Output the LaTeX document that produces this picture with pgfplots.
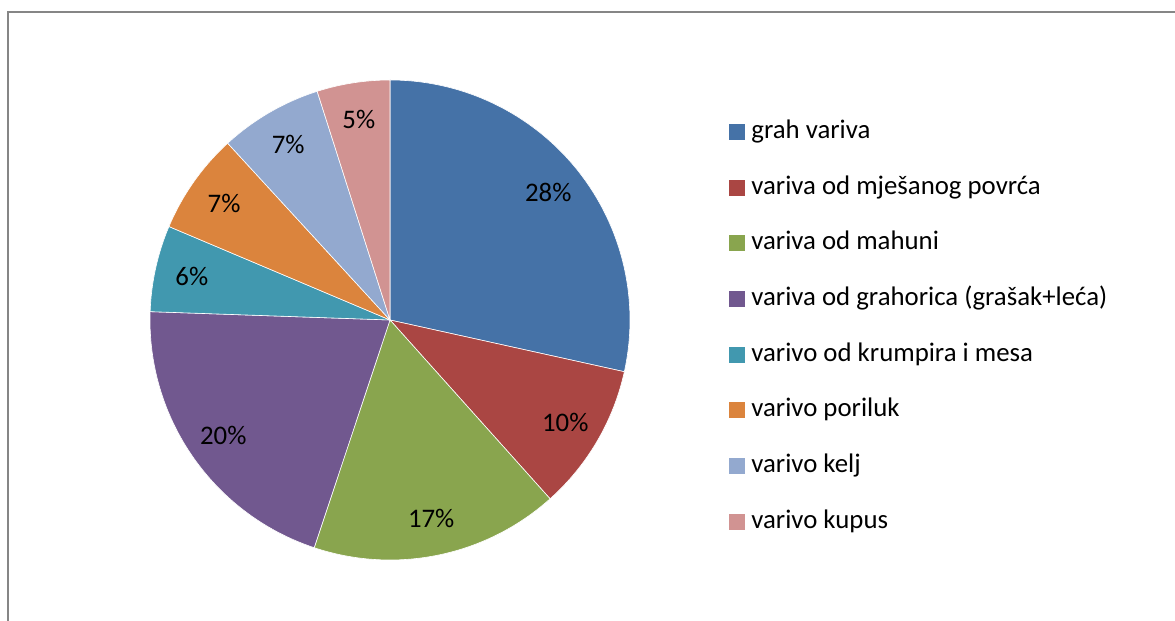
\documentclass[border=0pt]{standalone}
\usepackage{pgfplots}
\pgfplotsset{compat=1.18}
\usepackage{fontspec}
\setmainfont{Carlito}
\definecolor{c1}{HTML}{4572A7}
\definecolor{c2}{HTML}{AA4643}
\definecolor{c3}{HTML}{89A54E}
\definecolor{c4}{HTML}{71588F}
\definecolor{c5}{HTML}{4198AF}
\definecolor{c6}{HTML}{DB843D}
\definecolor{c7}{HTML}{93A9CF}
\definecolor{c8}{HTML}{D19392}
\definecolor{borderg}{HTML}{868686}
% share of each kind of stew (value/colour)
\def\piedata{28.4/c1, 9.9/c2, 16.7/c3, 20.4/c4, 5.8/c5, 6.8/c6, 6.9/c7, 4.9/c8}
\def\total{0}
\foreach \v/\c in \piedata {\pgfmathsetmacro\t{\total+\v}\xdef\total{\t}}
\tikzset{pielabel/.style={font=\fontsize{13.4}{15}\selectfont, text=black, inner sep=0pt}}
\begin{document}
\begin{tikzpicture}
\begin{axis}[
  width=587.5pt, height=310.5pt, scale only axis,
  xmin=0, xmax=1175, ymin=0, ymax=621,
  hide axis,
  legend style={at={(axis cs:723,506)}, anchor=north west, draw=none, fill=none,
    font=\fontsize{13.4}{15}\selectfont, row sep=15.35pt, column sep=3pt,
    nodes={inner sep=0pt, text height=9.5pt, text depth=3pt}},
  legend cell align=left,
  legend image code/.code={\fill[#1, draw=none] (0pt,-4pt) rectangle (8pt,4pt);},
]
\path (axis cs:0,0) rectangle (axis cs:1175,621);
\draw[color=borderg, line width=1pt] (axis cs:1175,609) -- (axis cs:8,609) -- (axis cs:8,0);
\addlegendimage{fill=c1, draw=none}\addlegendentry{grah variva}
\addlegendimage{fill=c2, draw=none}\addlegendentry{variva od mješanog povrća}
\addlegendimage{fill=c3, draw=none}\addlegendentry{variva od mahuni}
\addlegendimage{fill=c4, draw=none}\addlegendentry{variva od grahorica (grašak+leća)}
\addlegendimage{fill=c5, draw=none}\addlegendentry{varivo od krumpira i mesa}
\addlegendimage{fill=c6, draw=none}\addlegendentry{varivo poriluk}
\addlegendimage{fill=c7, draw=none}\addlegendentry{varivo kelj}
\addlegendimage{fill=c8, draw=none}\addlegendentry{varivo kupus}
\foreach \v/\c [remember=\e as \s (initially 90)] in \piedata {
  \pgfmathsetmacro\e{\s-\v/\total*360}
  \pgfmathsetmacro\m{(\s+\e)/2}
  \pgfmathtruncatemacro\p{round(\v/\total*100)}
  \edef\temp{\noexpand\fill[\c, draw=white, line width=0.3pt] (axis cs:390,301) -- ++(\s:120pt) arc[start angle=\s, end angle=\e, radius=120pt] -- cycle;
    \noexpand\path (axis cs:390,301) ++(\m:101.5pt) node[pielabel] {\p\noexpand\%};}
  \temp
}
\end{axis}
\end{tikzpicture}
\end{document}
